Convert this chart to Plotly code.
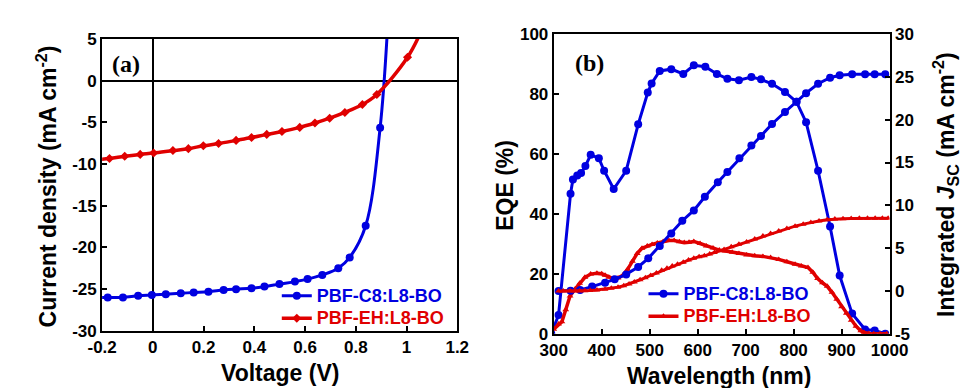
import plotly.graph_objects as go

# ---------------- Panel (a): J-V ----------------
jv_c8_v = [-0.235, -0.178, -0.118, -0.058, -0.004, 0.051, 0.110, 0.161, 0.219, 0.279, 0.328, 0.389,
           0.440, 0.499, 0.560, 0.610, 0.668, 0.731, 0.776, 0.839, 0.896, 0.930]
jv_c8_j = [-26.0, -26.0, -26.0, -25.8, -25.7, -25.6, -25.5, -25.4, -25.3, -25.1, -25.0, -24.9,
           -24.7, -24.4, -24.1, -23.8, -23.3, -22.5, -21.2, -17.4, -5.65, 9.0]

jv_eh_v = [-0.23, -0.171, -0.111, -0.050, 0.003, 0.079, 0.140, 0.199, 0.259, 0.328, 0.389, 0.449,
           0.509, 0.579, 0.639, 0.697, 0.757, 0.826, 0.883, 1.004, 1.065]
jv_eh_j = [-9.5, -9.34, -9.07, -8.85, -8.69, -8.39, -8.16, -7.82, -7.55, -7.17, -6.83, -6.45,
           -6.11, -5.61, -5.08, -4.51, -3.82, -2.87, -1.66, 2.79, 6.4]

jv_xticks = [-0.2, 0, 0.2, 0.4, 0.6, 0.8, 1.0, 1.2]
jv_xtext = ["-0.2", "0", "0.2", "0.4", "0.6", "0.8", "1", "1.2"]
jv_yticks = [-30, -25, -20, -15, -10, -5, 0, 5]
jv_ytext = ["-30", "-25", "-20", "-15", "-10", "-5", "0", "5"]

# ---------------- Panel (b): EQE ----------------
eqe_c8_wl = [295, 310, 335, 340, 349, 357, 366, 377, 394, 405, 425, 451, 476, 496, 504, 521, 545, 570,
             592, 616, 640, 662, 686, 712, 732, 755, 782, 806, 826, 851, 876, 896, 922, 949, 969, 991]
eqe_c8 = [0.0, 6.2, 46.7, 51.5, 52.8, 53.6, 56.0, 59.7, 58.6, 54.4, 48.3, 54.4, 69.9, 80.5, 83.5, 87.7,
          88.3, 86.7, 89.6, 89.1, 86.7, 85.1, 84.6, 85.7, 84.9, 83.4, 80.7, 77.4, 70.6, 54.4, 35.8,
          19.4, 6.7, 1.4, 1.1, 0.0]

jsc_c8_wl = [310, 335, 355, 380, 407, 427, 451, 476, 497, 521, 545, 568, 592, 615, 642, 662, 687, 712,
             732, 755, 782, 806, 826, 851, 876, 896, 922, 949, 969, 991]
jsc_c8 = [0.0, 0.03, 0.1, 0.5, 0.95, 1.35, 1.93, 2.8, 3.8, 5.26, 6.7, 8.2, 9.4, 11.0, 12.7, 13.9, 15.5,
          17.0, 18.1, 19.5, 20.9, 22.1, 23.1, 24.2, 24.9, 25.2, 25.3, 25.3, 25.3, 25.3]

eqe_eh_wl = [300, 310, 317, 325, 334, 345, 354, 365, 377, 390, 400, 407, 415, 424, 434, 444, 454, 464,
             474, 484, 495, 505, 516, 528, 540, 551, 562, 572, 582, 592, 605, 618, 632, 645, 658, 672,
             686, 702, 719, 736, 752, 769, 786, 803, 816, 830, 840, 850, 860, 870, 880, 890, 900, 910,
             920, 930, 940, 947, 957, 967, 980, 994]
eqe_eh = [1.5, 3.2, 4.0, 8.0, 12.6, 15.0, 16.8, 18.8, 19.9, 20.2, 20.0, 19.5, 18.8, 18.4, 18.6, 19.5,
          21.5, 24.2, 26.8, 28.5, 29.3, 29.8, 30.3, 30.8, 31.1, 31.1, 30.7, 30.4, 30.5, 30.8, 30.1, 29.3,
          28.6, 27.9, 27.6, 27.2, 26.8, 26.3, 26.0, 25.8, 25.4, 24.8, 24.0, 23.2, 22.6, 22.1, 20.5, 18.4,
          17.0, 15.8, 13.8, 11.5, 9.0, 6.8, 4.5, 2.5, 1.0, 0.4, 0.1, 0.0, 0.0, 0.0]

jsc_eh_wl = [310, 320, 334, 344, 354, 365, 376, 390, 407, 420, 434, 446, 457, 468, 480, 491, 502, 514,
             525, 536, 547, 558, 570, 581, 592, 603, 614, 625, 635, 645, 655, 670, 686, 702, 719, 736,
             752, 769, 786, 803, 820, 836, 853, 870, 886, 903, 920, 937, 954, 970, 985, 997]
jsc_eh = [0.0, 0.0, 0.0, 0.0, 0.0, 0.02, 0.05, 0.1, 0.2, 0.3, 0.44, 0.6, 0.8, 1.05, 1.3, 1.55, 1.8, 2.1,
          2.4, 2.65, 2.9, 3.1, 3.35, 3.6, 3.8, 4.0, 4.1, 4.3, 4.5, 4.7, 4.85, 5.15, 5.45, 5.7, 6.05, 6.4,
          6.7, 7.0, 7.3, 7.56, 7.8, 8.0, 8.17, 8.3, 8.4, 8.44, 8.47, 8.48, 8.48, 8.48, 8.48, 8.48]

eqe_xticks = [300, 400, 500, 600, 700, 800, 900, 1000]
eqe_yticks = [0, 20, 40, 60, 80, 100]
jsc_yticks = [-5, 0, 5, 10, 15, 20, 25, 30]

name_c8 = "PBF-C8:L8-BO"
name_eh = "PBF-EH:L8-BO"

BLUE = "#0000e0"
RED = "#e00000"
FONT = "Liberation Sans, Arial, sans-serif"
SERIF = "Liberation Serif, Times New Roman, serif"
W, H = 971, 388


def leg_name(color, text):
    return f"<span style='color:{color};font-size:18px'>{text}</span>"


fig = go.Figure()

# (a)
fig.add_trace(go.Scatter(x=jv_c8_v, y=jv_c8_j, mode="lines+markers", line=dict(color=BLUE, width=3, shape="spline"),
                         marker=dict(symbol="circle", size=8, color=BLUE),
                         name=leg_name(BLUE, name_c8), legend="legend", xaxis="x", yaxis="y"))
fig.add_trace(go.Scatter(x=jv_eh_v, y=jv_eh_j, mode="lines+markers", line=dict(color=RED, width=3.5, shape="spline"),
                         marker=dict(symbol="diamond", size=7, color=RED),
                         name=leg_name(RED, name_eh), legend="legend", xaxis="x", yaxis="y"))

# (b)
fig.add_trace(go.Scatter(x=eqe_c8_wl, y=eqe_c8, mode="lines+markers", line=dict(color=BLUE, width=3),
                         marker=dict(symbol="circle", size=8, color=BLUE),
                         name=leg_name(BLUE, name_c8), legend="legend2", xaxis="x2", yaxis="y2"))
fig.add_trace(go.Scatter(x=eqe_eh_wl, y=eqe_eh, mode="lines+markers", line=dict(color=RED, width=3.5),
                         marker=dict(symbol="triangle-up", size=6, color=RED),
                         name=leg_name(RED, name_eh), legend="legend2", xaxis="x2", yaxis="y2"))
fig.add_trace(go.Scatter(x=jsc_c8_wl, y=jsc_c8, mode="lines+markers", line=dict(color=BLUE, width=3),
                         marker=dict(symbol="circle", size=8, color=BLUE), showlegend=False,
                         xaxis="x2", yaxis="y3"))
fig.add_trace(go.Scatter(x=jsc_eh_wl, y=jsc_eh, mode="lines+markers", line=dict(color=RED, width=3),
                         marker=dict(symbol="triangle-up", size=6, color=RED), showlegend=False,
                         xaxis="x2", yaxis="y3"))

tickfont = dict(family=FONT, size=17, color="black", weight="bold")
axcommon = dict(showline=True, linecolor="black", linewidth=2, ticks="inside", ticklen=5, tickwidth=2,
                tickcolor="black", showgrid=False, tickfont=tickfont)

legfont = dict(family=FONT, size=15, weight="bold")
fig.update_layout(
    width=W, height=H, margin=dict(l=0, r=0, t=0, b=0),
    paper_bgcolor="white", plot_bgcolor="white",
    xaxis=dict(domain=[82 / W, 450 / W], range=[-0.2, 1.2], tickvals=jv_xticks, ticktext=jv_xtext,
               mirror=True, zeroline=True, zerolinecolor="black", zerolinewidth=2, anchor="y", **axcommon),
    yaxis=dict(domain=[1 - 330 / H, 1 - 23 / H], range=[-30, 5], tickvals=jv_yticks, ticktext=jv_ytext,
               mirror=True, zeroline=True, zerolinecolor="black", zerolinewidth=2, anchor="x", **axcommon),
    xaxis2=dict(domain=[550 / W, 898 / W], range=[300, 1000], tickvals=eqe_xticks, mirror=True,
                zeroline=False, anchor="y2", **axcommon),
    yaxis2=dict(domain=[1 - 333 / H, 1 - 18 / H], range=[0, 100], tickvals=eqe_yticks,
                zeroline=False, anchor="x2", **axcommon),
    yaxis3=dict(range=[-5, 30], tickvals=jsc_yticks, ticktext=[str(v) for v in jsc_yticks], overlaying="y2",
                side="right", anchor="x2", zeroline=False, **axcommon),
    legend=dict(x=263 / W, y=1 - 276 / H, xanchor="left", yanchor="top", bgcolor="rgba(0,0,0,0)",
                font=legfont, tracegroupgap=0),
    legend2=dict(x=643 / W, y=1 - 274 / H, xanchor="left", yanchor="top", bgcolor="rgba(0,0,0,0)",
                 font=legfont, tracegroupgap=0),
    showlegend=True,
)

title_font = dict(family=FONT, size=23, color="black", weight="bold")
annos = [
    dict(text="(a)", x=107 / W, y=1 - 49 / H, font=dict(family=SERIF, size=24, color="black", weight="bold")),
    dict(text="(b)", x=587 / W, y=1 - 48 / H, font=dict(family=SERIF, size=24, color="black", weight="bold")),
    dict(text="Current density (mA cm<sup>-2</sup>)", x=25 / W, y=1 - 178 / H, textangle=-90, font=title_font),
    dict(text="Voltage (V)", x=266 / W, y=1 - 374 / H, font=title_font),
    dict(text="EQE (%)", x=500 / W, y=1 - 177 / H, textangle=-90, font=title_font),
    dict(text="Integrated <i>J</i><sub>SC</sub> (mA cm<sup>-2</sup>)", x=956 / W, y=1 - 176 / H,
         textangle=-90, font=title_font),
    dict(text="Wavelength (nm)", x=721 / W, y=1 - 377 / H, font=title_font),
]
for a in annos:
    a.update(xref="paper", yref="paper", showarrow=False, xanchor="center", yanchor="middle")
    fig.add_annotation(**a)

fig.write_html("out.html")
